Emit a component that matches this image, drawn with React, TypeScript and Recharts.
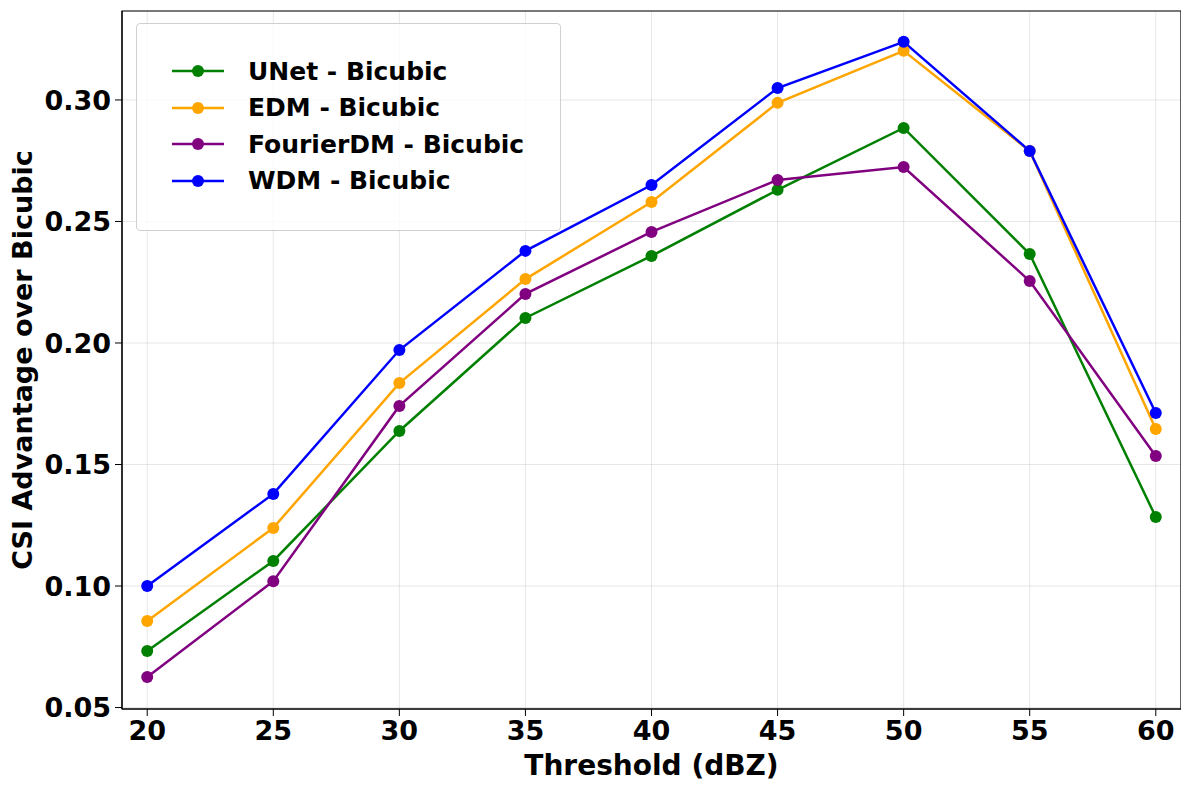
import { LineChart, Line, XAxis, YAxis, CartesianGrid, ReferenceArea } from 'recharts';

const thresholds = [20, 25, 30, 35, 40, 45, 50, 55, 60];
const unet = [0.0733, 0.1103, 0.1638, 0.2103, 0.2358, 0.263, 0.2885, 0.2366, 0.1284];
const edm = [0.0856, 0.1239, 0.1835, 0.2263, 0.258, 0.2988, 0.3202, 0.279, 0.1646];
const fourier = [0.0626, 0.102, 0.1741, 0.2202, 0.2457, 0.2671, 0.2724, 0.2255, 0.1535];
const wdm = [0.1, 0.1379, 0.1971, 0.2379, 0.265, 0.3049, 0.3239, 0.279, 0.1712];
const yTicks = [0.05, 0.1, 0.15, 0.2, 0.25, 0.3];
const xDomain: [number, number] = [19, 61];
const yDomain: [number, number] = [0.0494, 0.3366];

const series = [
  { key: 'unet', name: 'UNet - Bicubic', color: '#008000', values: unet },
  { key: 'edm', name: 'EDM - Bicubic', color: '#FFA500', values: edm },
  { key: 'fourier', name: 'FourierDM - Bicubic', color: '#800080', values: fourier },
  { key: 'wdm', name: 'WDM - Bicubic', color: '#0000FF', values: wdm },
];

const data = thresholds.map((t, i) => {
  const row: Record<string, number> = { t };
  series.forEach((s) => { row[s.key] = s.values[i]; });
  return row;
});

const FONT = '"DejaVu Sans", sans-serif';

const LegendBox = () => (
  <div style={{
    position: 'absolute', left: 128, top: 15,
    width: 425, height: 208, boxSizing: 'border-box', background: 'rgba(255,255,255,0.8)',
    border: '1px solid #d0d0d0', borderRadius: 4, paddingTop: 29, paddingLeft: 35,
    fontFamily: FONT, fontWeight: 'bold', fontSize: 25, color: '#000',
  }}>
    {series.map((s) => (
      <div key={s.key} style={{ display: 'flex', alignItems: 'center', height: 36.5 }}>
        <svg width={52} height={16} style={{ marginRight: 24 }}>
          <line x1={0} y1={8} x2={52} y2={8} stroke={s.color} strokeWidth={2.5} />
          <circle cx={26} cy={8} r={6} fill={s.color} />
        </svg>
        <span>{s.name}</span>
      </div>
    ))}
  </div>
);

// rotated y label, centred on the plot height
const YLabel = (props: any) => {
  const vb = props.viewBox || {};
  const cy = (vb.y ?? 0) + (vb.height ?? 0) / 2;
  return (
    <text x={14} y={cy} transform={`rotate(-90, 14, ${cy})`} textAnchor="middle" dominantBaseline="central"
      fill="#000" fontSize={27} fontWeight="bold" fontFamily={FONT}>
      CSI Advantage over Bicubic
    </text>
  );
};

export default function App() {
  return (
    <div style={{ position: 'relative', fontFamily: FONT }}>
      <LineChart width={1181} height={782} data={data} margin={{ top: 3, right: 8, bottom: 0, left: 0 }}>
        <CartesianGrid stroke="#b0b0b0" strokeOpacity={0.3} strokeWidth={1} />
        <XAxis
          dataKey="t" type="number" domain={xDomain} ticks={thresholds}
          height={81} stroke="#000" tickSize={7} tickMargin={5}
          tick={{ fill: '#000', fontSize: 27, fontWeight: 'bold', fontFamily: FONT }}
          label={{ value: 'Threshold (dBZ)', position: 'insideBottom', offset: 15, fill: '#000', fontSize: 28, fontWeight: 'bold', fontFamily: FONT }}
        />
        <YAxis
          type="number" domain={yDomain} ticks={yTicks} allowDataOverflow
          width={114} stroke="#000" tickSize={7} tickMargin={4}
          tickFormatter={(v: number) => v.toFixed(2)}
          tick={{ fill: '#000', fontSize: 27, fontWeight: 'bold', fontFamily: FONT }}
          label={<YLabel />}
        />
        <ReferenceArea x1={xDomain[0]} x2={xDomain[1]} y1={yDomain[0]} y2={yDomain[1]} fill="none" stroke="#000" strokeWidth={1.2} />
        {series.map((s) => (
          <Line
            key={s.key} dataKey={s.key} name={s.name} stroke={s.color} strokeWidth={2.5}
            dot={{ r: 6, fill: s.color, stroke: s.color, strokeWidth: 0 }}
            activeDot={false} isAnimationActive={false}
          />
        ))}
      </LineChart>
      <LegendBox />
    </div>
  );
}
